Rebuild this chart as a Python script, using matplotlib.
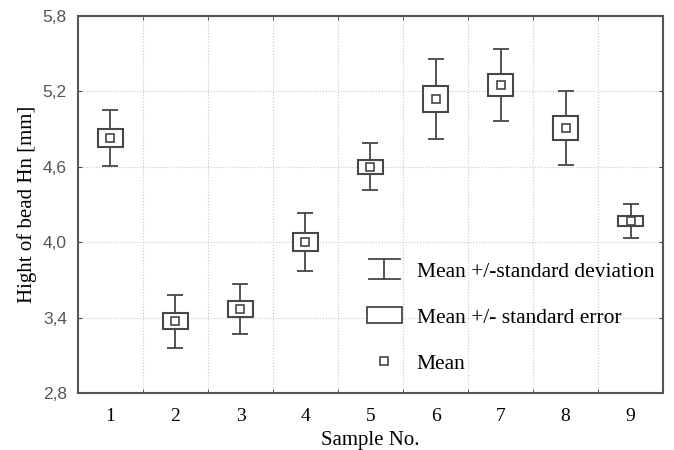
import matplotlib
matplotlib.use("Agg")
import matplotlib.pyplot as plt
from matplotlib.lines import Line2D
from matplotlib.patches import Rectangle
from matplotlib.legend_handler import HandlerBase

# values
samples = [1, 2, 3, 4, 5, 6, 7, 8, 9]
means = [4.83, 3.37, 3.47, 4.00, 4.60, 5.14, 5.25, 4.91, 4.17]
std_err = [0.07, 0.064, 0.062, 0.07, 0.056, 0.10, 0.09, 0.093, 0.04]
std_dev = [0.22, 0.21, 0.20, 0.23, 0.187, 0.32, 0.287, 0.295, 0.134]
yticks = [2.8, 3.4, 4.0, 4.6, 5.2, 5.8]
ytick_labels = ["2,8", "3,4", "4,0", "4,6", "5,2", "5,8"]

ink = "#474747"
serif = "Liberation Serif"


class SDHandler(HandlerBase):
    def create_artists(self, legend, orig, xd, yd, w, h, fontsize, trans):
        x0, x1 = xd + 0.1 * w, xd + 0.9 * w
        xm = xd + w / 2
        y0, y1 = yd - 0.15 * h, yd + 1.15 * h
        arts = [Line2D([x0, x1], [y0, y0]), Line2D([x0, x1], [y1, y1]),
                Line2D([xm, xm], [y0, y1])]
        for a in arts:
            a.set_color(ink)
            a.set_linewidth(1.3)
            a.set_transform(trans)
        return arts


class BoxHandler(HandlerBase):
    def create_artists(self, legend, orig, xd, yd, w, h, fontsize, trans):
        r = Rectangle((xd + 0.05 * w, yd - 0.05 * h), 0.9 * w, 1.1 * h,
                      fc="white", ec=ink, lw=1.3, transform=trans)
        return [r]


fig = plt.figure(figsize=(6.74, 4.5), dpi=100)
ax = fig.add_axes([0.1157, 0.1267, 0.868, 0.8377])

box_w = 0.38
for x, m, se, sd in zip(samples, means, std_err, std_dev):
    ax.errorbar(x, m, yerr=sd, fmt="none", ecolor=ink, elinewidth=1.3,
                capsize=5.5, capthick=1.3, zorder=2)
    ax.add_patch(Rectangle((x - box_w / 2, m - se), box_w, 2 * se,
                           fc="white", ec=ink, lw=1.5, zorder=3))
ax.plot(samples, means, ls="none", marker="s", ms=5.5, mfc="white",
        mec=ink, mew=1.2, zorder=4)

ax.set_xlim(0.5, 9.5)
ax.set_ylim(2.8, 5.8)
ax.set_xticks(samples)
ax.set_xticklabels([str(s) for s in samples], fontfamily=serif, fontsize=14)
ax.set_xticks([s + 0.5 for s in samples[:-1]], minor=True)
ax.tick_params(axis="x", which="major", length=0, pad=11)
ax.tick_params(axis="x", which="minor", length=3, direction="in",
               top=True, bottom=True, color=ink)
ax.set_yticks(yticks)
ax.set_yticklabels(ytick_labels, fontfamily="Liberation Sans", fontsize=12.5,
                   color="#555555")
ax.tick_params(axis="y", length=3, direction="in", left=True, right=True,
               color=ink, pad=8)
ax.grid(True, axis="x", which="minor", ls=":", color="#c8c8c8", lw=0.8)
ax.grid(True, axis="y", which="major", ls=":", color="#c8c8c8", lw=0.8)
ax.set_axisbelow(True)
for s in ax.spines.values():
    s.set_color("#555555")
    s.set_linewidth(1.5)

ax.set_xlabel("Sample No.", fontfamily=serif, fontsize=15, labelpad=4)
ax.set_ylabel("Hight of bead Hn [mm]", fontfamily=serif, fontsize=15,
              labelpad=4)

h_sd = Line2D([], [])
h_se = Rectangle((0, 0), 1, 1)
h_mean = Line2D([], [], ls="none", marker="s", ms=5.5, mfc="white",
                mec=ink, mew=1.2)
ax.legend([h_sd, h_se, h_mean],
          ["Mean +/-standard deviation", "Mean +/- standard error", "Mean"],
          handler_map={h_sd: SDHandler(), h_se: BoxHandler()},
          loc="lower right", bbox_to_anchor=(1.018, 0.0), frameon=False,
          prop={"family": serif, "size": 15.5}, labelspacing=1.2,
          handlelength=1.8, handletextpad=0.6)

fig.savefig("out.png", dpi=100)
